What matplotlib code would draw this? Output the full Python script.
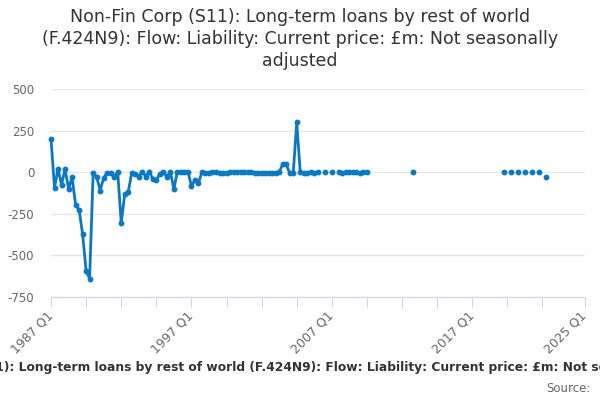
import matplotlib
matplotlib.use("Agg")
import matplotlib.pyplot as plt
import numpy as np

plt.rcParams["font.family"] = ["DejaVu Sans"]

TITLE = ("Non-Fin Corp (S11): Long-term loans by rest of world\n"
         "(F.424N9): Flow: Liability: Current price: £m: Not seasonally\n"
         "adjusted")
XLABEL = ("Non-Fin Corp (S11): Long-term loans by rest of world (F.424N9): "
          "Flow: Liability: Current price: £m: Not seasonally adjusted")

# 四半期ラベル 1987 Q1 〜 2025 Q1
quarters = [f"{y} Q{q}" for y in range(1987, 2026) for q in range(1, 5)][:153]

# 値（£m）、欠損は None
seg_1987_2006 = [200, -94, 20, -76, 20, -100, -30, -196, -226, -372,
                 -592, -640, -6, -28, -110, -34, -4, -4, -30, 4,
                 -306, -132, -118, -4, -8, -26, 4, -26, 4, -40,
                 -48, -8, 4, -28, 4, -102, 4, 4, 4, 4,
                 -82, -48, -64, 0, -3, -2, 0, 1, -2, -4,
                 -3, 0, 2, 1, 0, 3, 1, 0, -2, -4,
                 -5, -6, -4, -3, -2, 0, 48, 48, -6, -6,
                 300, 0, -2, -3, 0, -4, 0]
seg_2007_2009 = [None, 0, None, 0, None,
                 0, -2, 0, 0, 1, 0, -2, 0, 0]
seg_2010_2025 = ([None] * 12 + [0] + [None] * 25 +
                 [0, None, 0, None, 0, None, 0, None, 0, None, 0, None, -30] +
                 [None] * 11)
values = seg_1987_2006 + seg_2007_2009 + seg_2010_2025

yticks = [-750, -500, -250, 0, 250, 500]
xtick_pos = [0, 10, 20, 30, 40, 50, 60, 70, 80, 90, 100, 110, 120, 130, 140, 152]
xlabel_pos = [0, 40, 80, 120, 152]

y = np.array([np.nan if v is None else v for v in values], dtype=float)
x = np.arange(len(y))

fig = plt.figure(figsize=(6, 4), dpi=100)
ax = fig.add_axes([51 / 600, 1 - 297 / 400, (584.6 - 51) / 600, (297 - 89) / 400])

ax.plot(x, y, color="#0a78c2", lw=2, marker="o", ms=3.2, mec="#0a78c2",
        zorder=3, clip_on=False)

ax.set_xlim(0, 152)
ax.set_ylim(-750, 500)
ax.set_yticks(yticks)
ax.set_yticklabels([str(v) for v in yticks])
ax.grid(axis="y", color="#e6e6e6", lw=1)
ax.set_axisbelow(True)

for s in ["top", "right", "left"]:
    ax.spines[s].set_visible(False)
ax.spines["bottom"].set_color("#ccd6eb")
ax.tick_params(axis="x", length=7, color="#ccd6eb", labelsize=9,
               labelcolor="#666666", pad=5)
ax.tick_params(axis="y", length=0, labelsize=8.5, labelcolor="#666666", pad=12)

ax.set_xticks(xtick_pos)
ax.set_xticklabels([quarters[p] if p in xlabel_pos else "" for p in xtick_pos])
for lab in ax.get_xticklabels():
    lab.set_rotation(45)
    lab.set_horizontalalignment("right")
    lab.set_verticalalignment("center")
    lab.set_rotation_mode("anchor")

fig.text(0.5, 1 - 39 / 400, TITLE, ha="center", va="center", fontsize=12.5,
         color="#333333", linespacing=1.25)
fig.text(0.506, 1 - 367 / 400, XLABEL, ha="center", va="center",
         fontsize=8.8, fontweight="bold", color="#333333")
fig.text(591 / 600, 1 - 388 / 400, "Source:", ha="right", va="center",
         fontsize=8.5, color="#666666")

fig.savefig("out.png", dpi=100)
